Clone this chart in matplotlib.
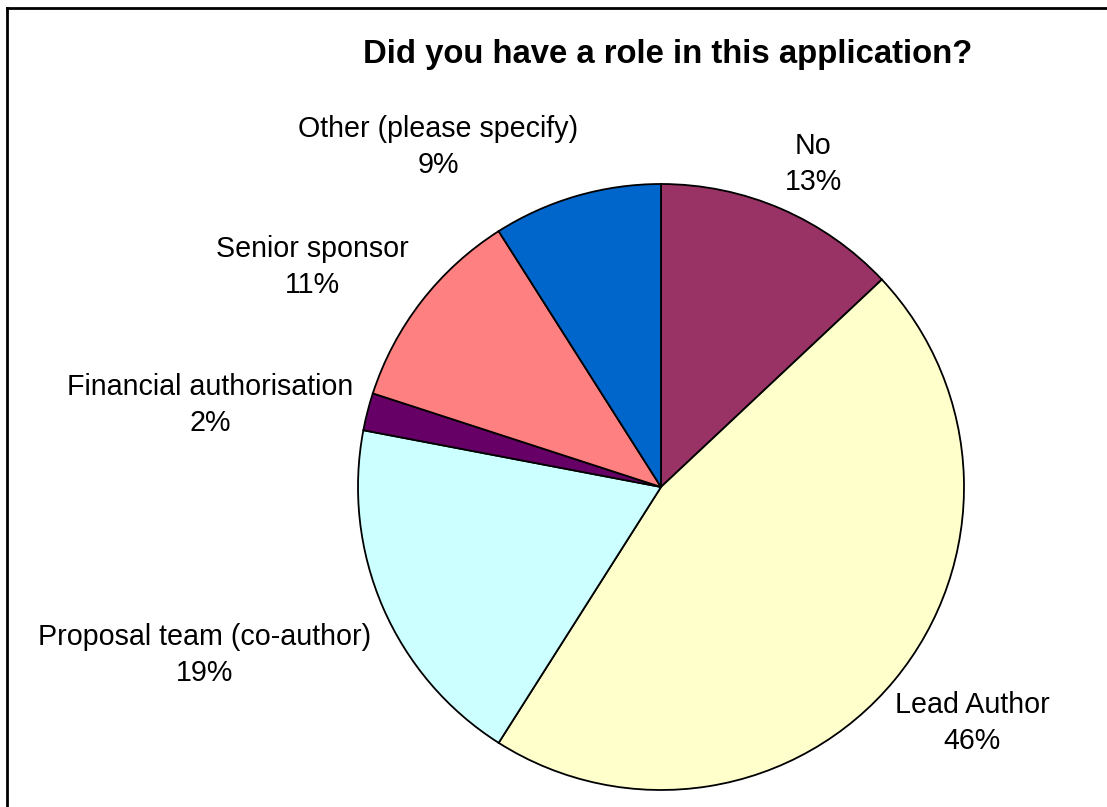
import matplotlib
matplotlib.use("Agg")
import matplotlib.pyplot as plt
from matplotlib.lines import Line2D

# Survey responses: "Did you have a role in this application?"
categories = [
    "No",
    "Lead Author",
    "Proposal team (co-author)",
    "Financial authorisation",
    "Senior sponsor",
    "Other (please specify)",
]
percentages = [13, 46, 19, 2, 11, 9]
colors = ["#993366", "#FFFFCC", "#CCFFFF", "#660066", "#FF8080", "#0066CC"]
title = "Did you have a role in this application?"

# Label anchor points (in pie-radius units, pie centred on origin)
label_pos = [
    (0.502, 1.066),
    (1.026, -0.779),
    (-1.505, -0.554),
    (-1.488, 0.271),
    (-1.152, 0.726),
    (-0.736, 1.122),
]

W, H, DPI = 1107, 807, 100
cx, cy, R = 661, 487, 303  # pie centre and radius in pixels

plt.rcParams["font.family"] = ["Liberation Sans", "DejaVu Sans"]
fig = plt.figure(figsize=(W / DPI, H / DPI), dpi=DPI)
ax = fig.add_axes([0, 0, 1, 1])

ax.pie(
    percentages,
    colors=colors,
    startangle=90,
    counterclock=False,
    radius=1.0,
    center=(0, 0),
    wedgeprops=dict(edgecolor="black", linewidth=1.3),
    frame=True,
)
ax.set_xlim(-cx / R, (W - cx) / R)
ax.set_ylim(-(H - cy) / R, cy / R)
ax.axis("off")

for name, pct, (x, y) in zip(categories, percentages, label_pos):
    ax.text(x, y, f"{name}\n{pct}%", ha="center", va="center",
            fontsize=20.6, linespacing=1.38, color="black")

fig.text(668 / W, 1 - 55 / H, title, ha="center", va="center",
         fontsize=23.7, fontweight="bold")

# Outer chart-area frame (top and left edges visible)
fig.add_artist(Line2D([7 / W, 7 / W], [0, 1 - 8 / H], transform=fig.transFigure,
                      color="black", linewidth=2))
fig.add_artist(Line2D([7 / W, 1], [1 - 8 / H, 1 - 8 / H], transform=fig.transFigure,
                      color="black", linewidth=2))

fig.savefig("out.png", dpi=DPI, facecolor="white")
